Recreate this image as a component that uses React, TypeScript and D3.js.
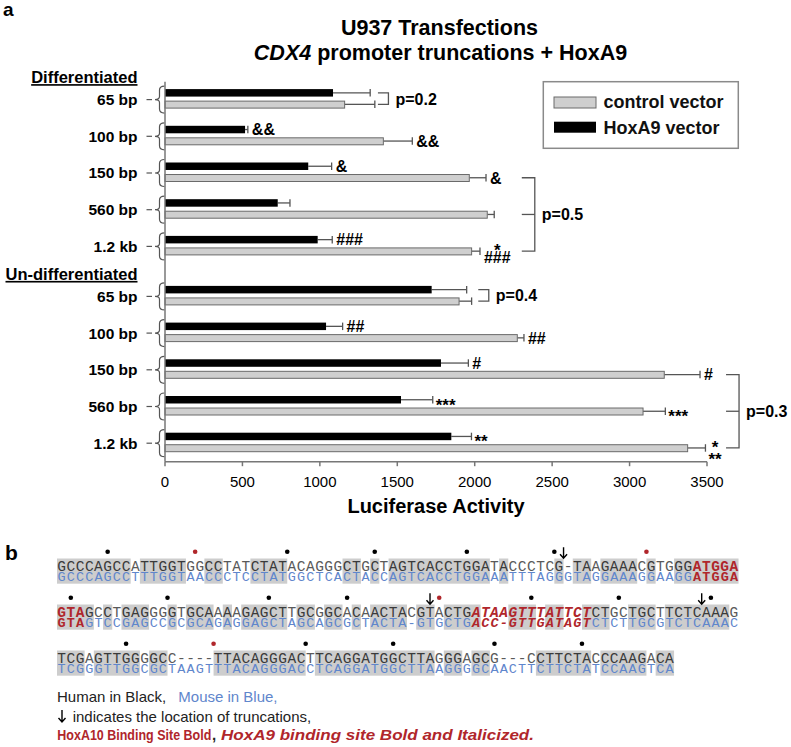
import React from "react";
import * as d3 from "d3";

// ---------- Panel a data ----------
const groupLabels = ["65 bp", "100 bp", "150 bp", "560 bp", "1.2 kb", "65 bp", "100 bp", "150 bp", "560 bp", "1.2 kb"];
const sectionLabels = ["Differentiated", "Un-differentiated"];
const sectionStart = [0, 5];
const hoxa9Values = [1085, 517, 925, 728, 986, 1722, 1040, 1782, 1524, 1849];
const hoxa9Errors = [240, 18, 151, 79, 94, 226, 107, 177, 205, 130];
const controlValues = [1160, 1410, 1965, 2081, 1980, 1899, 2275, 3224, 3087, 3375];
const controlErrors = [195, 187, 108, 45, 54, 81, 43, 231, 144, 115];
const hoxa9Marks = ["", "&&", "&", "", "###", "", "##", "#", "***", "**"];
const controlMarks = ["", "&&", "&", "", "###", "", "##", "#", "***", "**"];
const controlSupMarks = ["", "", "", "", "*", "", "", "", "", "*"];
const xTicks = [0, 500, 1000, 1500, 2000, 2500, 3000, 3500];
const pLabels = ["p=0.2", "p=0.5", "p=0.4", "p=0.3"];
const pAt = [1375, 2304, 2023, 3623];
const pRows: [number, string][][] = [
  [[0, "hoxa9"], [0, "control"]],
  [[2, "control"], [3, "control"], [4, "control"]],
  [[5, "hoxa9"], [5, "control"]],
  [[7, "control"], [8, "control"], [9, "control"]],
];
const seriesNames = ["control vector", "HoxA9 vector"];

// ---------- Panel b data ----------
const humanRows = [
  "GCCCAGCCATTGGTGGCCTATCTATACAGGGCTGCTAGTCACCTGGATACCCTCG-TAAGAAACGTGGGATGGA",
  "GTAGCCTGAGGGGTGCAAAAGAGCTTGCGGCACAACTACGTACTGATAAGTTTATTCTCTGCTGCTTCTCAAAG",
  "TCGAGTTGGGGCC----TTACAGGGACTTCAGGATGGCTTAGGGAGCG---CCTTCTACCCAAGACA",
];
const mouseRows = [
  "GCCCAGCCTTTGGTAACCCTCCTATGGCTCACTACCAGTCACCTGGAAATTTAGGGTAGGAAAGGAAGGATGGA",
  "GTAGTCCGAGCCGCGCAGAGGAGCTAGCAGCGCTACTA-GTGCTGACC-GTTGATAGTCTCTTGCGTCTCAAAC",
  "TCGGGTTGGCGCTAAGTTTACAGGGACCTCAGGATGGCTTAAGGGGCAACTTCTTCTATCCAAGTCA",
];
const dotCols = [
  [5, 14.5, 24.5, 34, 44, 53.5, 63.5],
  [1, 11.5, 22.5, 31, 41, 51, 60.5, 70.5],
  [7, 16.5, 26.5, 36, 47, 56.5],
];
const dotRed = [
  [0, 1, 0, 0, 0, 0, 1],
  [0, 0, 0, 0, 1, 0, 0, 0],
  [0, 1, 0, 0, 0, 0],
];
const arrowCols = [[54.5], [40, 69.5], []];
const hoxa10Sites = [
  { row: 0, start: 69, end: 73 },
  { row: 1, start: 0, end: 2 },
];
const hoxa9Sites = [{ row: 1, start: 45, end: 57 }];

const SANS = "'Liberation Sans', Arial, Helvetica, sans-serif";
const MONO = "'Liberation Mono', 'DejaVu Sans Mono', monospace";
const RED = "#b0262b";
const BLUE = "#5f86cc";

function bracePath(xr: number, c: number, h: number) {
  const xl = xr - 9.5;
  const xm = xr - 5;
  return `M${xr},${c - h} Q${xm},${c - h} ${xm},${c - h + 4} L${xm},${c - 3} Q${xm},${c} ${xl},${c} Q${xm},${c} ${xm},${c + 3} L${xm},${c + h - 4} Q${xm},${c + h} ${xr},${c + h}`;
}

function arrowPath(cx: number, top: number, bottom: number) {
  return `M${cx},${top} L${cx},${bottom} M${cx - 3.5},${bottom - 4} L${cx},${bottom} L${cx + 3.5},${bottom - 4}`;
}

export default function App() {
  // scales
  const x = d3.scaleLinear().domain([0, 3500]).range([165, 707]);
  const gap = 0.3624;
  const rowPos = (i: number) => i + (i >= 5 ? gap : 0);
  const y = d3.scaleLinear().domain([0, 9 + gap]).range([98.6, 442.2]);
  const inner = d3.scaleBand<string>().domain(["hoxa9", "control"]).range([-9.5, 9.5]).paddingInner(0.35);
  const bw = inner.bandwidth();
  const gc = (i: number) => y(rowPos(i));
  const barCenter = (i: number, s: string) => gc(i) + (inner(s) as number) + bw / 2;
  const axisTop = 81.7;
  const axisBottom = 461.7;

  const series = [
    { key: "hoxa9", values: hoxa9Values, errors: hoxa9Errors, marks: hoxa9Marks, sup: hoxa9Marks.map(() => "") },
    { key: "control", values: controlValues, errors: controlErrors, marks: controlMarks, sup: controlSupMarks },
  ];

  // sequence scale
  const seqX = d3.scaleLinear().domain([0, 74]).range([57, 57 + 74 * 9.21]);
  const cw = seqX(1) - seqX(0);
  const rowBase = d3.scaleLinear().domain([0, 2]).range([570.7, 662.7]);

  const inSite = (sites: { row: number; start: number; end: number }[], r: number, i: number) =>
    sites.some((s) => s.row === r && i >= s.start && i <= s.end);

  return (
    <svg
      width={791}
      height={747}
      viewBox="0 0 791 747"
      style={{ position: "absolute", left: 0, top: 0, background: "#fff" }}
      fontFamily={SANS}
    >
      <rect x={0} y={0} width={791} height={747} fill="#fff" />
      {/* panel label a */}
      <text x={3} y={16} fontSize={19} fontWeight="bold">a</text>
      {/* title */}
      <text x={439.5} y={35} textAnchor="middle" fontSize={21.5} fontWeight="bold">U937 Transfections</text>
      <text x={440.5} y={59.5} textAnchor="middle" fontSize={21.5} fontWeight="bold">
        <tspan fontStyle="italic">CDX4</tspan> promoter truncations + HoxA9
      </text>

      {/* section headings */}
      {sectionLabels.map((s, k) => (
        <text
          key={s}
          x={137.5}
          y={gc(sectionStart[k]) - 15.5}
          textAnchor="end"
          fontSize={16.5}
          fontWeight="bold"
          textDecoration="underline"
        >
          {s}
        </text>
      ))}

      {/* group labels, ticks and braces */}
      {groupLabels.map((g, i) => (
        <g key={"g" + i}>
          <text x={137.5} y={gc(i) + 6.5} textAnchor="end" fontSize={15.5} fontWeight="bold">
            {g}
          </text>
          <line x1={146.5} x2={152} y1={gc(i) + 1} y2={gc(i) + 1} stroke="#555" strokeWidth={1.2} />
          <path d={bracePath(x(0) - 0.5, gc(i) + 1, 13.5)} fill="none" stroke="#555" strokeWidth={1.2} />
        </g>
      ))}

      {/* bars */}
      {series.map((s) =>
        s.values.map((v, i) => {
          const top = gc(i) + (inner(s.key) as number);
          const cy = top + bw / 2;
          const end = x(v);
          const cap = x(v + s.errors[i]);
          return (
            <g key={s.key + i}>
              <line x1={end} x2={cap} y1={cy} y2={cy} stroke="#555" strokeWidth={1.3} />
              <line x1={cap} x2={cap} y1={top} y2={top + bw} stroke="#555" strokeWidth={1.3} />
              {s.key === "hoxa9" ? (
                <rect x={x(0)} y={top} width={end - x(0)} height={bw} fill="#000" />
              ) : (
                <rect x={x(0)} y={top + 0.5} width={end - x(0)} height={bw - 0.5} fill="#cfcfcf" stroke="#6a6a6a" strokeWidth={1} />
              )}
            </g>
          );
        })
      )}

      {/* significance marks */}
      {series.map((s) =>
        s.marks.map((m, i) => {
          if (!m) return null;
          const cy = barCenter(i, s.key);
          const cap = x(s.values[i] + s.errors[i]);
          const isStar = m.startsWith("*");
          const shifted = !!s.sup[i];
          const fs = isStar ? 17 : 16;
          const center = cy + (shifted ? 6.5 : 0) + (isStar ? 1.5 : 0);
          const base = center + (isStar ? 9.3 : 5.75);
          const tx = cap + (isStar ? 3 : 4);
          const w = m.length * (isStar ? 6.6 : 8.9);
          return (
            <g key={"m" + s.key + i}>
              <text x={tx} y={base} fontSize={fs} fontWeight="bold">{m}</text>
              {shifted && (
                <text x={tx + w / 2} y={cy - 4 + 9.3} textAnchor="middle" fontSize={17} fontWeight="bold">
                  {s.sup[i]}
                </text>
              )}
            </g>
          );
        })
      )}

      {/* p-value brackets */}
      {pLabels.map((lab, k) => {
        const ys = pRows[k].map(([g, s]) => barCenter(g, s));
        const xl = x(pAt[k]);
        const xr = xl + (ys.length > 2 ? 13 : 10.5);
        const y0 = ys[0];
        const y1 = ys[ys.length - 1];
        const ym = ys.length > 2 ? ys[1] : (y0 + y1) / 2;
        return (
          <g key={lab}>
            <path d={`M${xl},${y0} L${xr},${y0} L${xr},${y1} L${xl},${y1}`} fill="none" stroke="#555" strokeWidth={1.3} />
            {ys.length > 2 && <line x1={xl} x2={xr} y1={ys[1]} y2={ys[1]} stroke="#555" strokeWidth={1.3} />}
            <text x={xr + 7} y={ym + 6} fontSize={16} fontWeight="bold">{lab}</text>
          </g>
        );
      })}

      {/* axes */}
      <line x1={x(0)} x2={x(0)} y1={axisTop} y2={axisBottom} stroke="#777" strokeWidth={1.5} />
      <line x1={x(0)} x2={x(3500)} y1={axisBottom} y2={axisBottom} stroke="#777" strokeWidth={1.5} />
      {xTicks.map((t) => (
        <g key={"t" + t}>
          <line x1={x(t)} x2={x(t)} y1={axisBottom} y2={axisBottom + 4.5} stroke="#777" strokeWidth={1.5} />
          <text x={x(t)} y={487} textAnchor="middle" fontSize={15}>{d3.format("d")(t)}</text>
        </g>
      ))}
      <text x={(x(0) + x(3500)) / 2} y={513} textAnchor="middle" fontSize={20} fontWeight="bold">
        Luciferase Activity
      </text>

      {/* legend */}
      <rect x={543.3} y={81.7} width={195} height={66.6} fill="#fff" stroke="#8a8a8a" strokeWidth={1.5} />
      <rect x={554} y={97} width={42} height={11} fill="#cfcfcf" stroke="#6a6a6a" strokeWidth={1} />
      <rect x={554} y={121.7} width={42} height={11} fill="#000" />
      <text x={603.5} y={108} fontSize={18} fontWeight="bold" fill="#111">{seriesNames[0]}</text>
      <text x={603.5} y={133.5} fontSize={18} fontWeight="bold" fill="#111">{seriesNames[1]}</text>

      {/* ---------- panel b ---------- */}
      <text x={5} y={560} fontSize={21} fontWeight="bold">b</text>

      {humanRows.map((hRow, r) => {
        const mRow = mouseRows[r];
        const hb = rowBase(r);
        const mb = hb + 10.4;
        // runs of matched columns
        const runs: [number, number][] = [];
        for (let i = 0; i < hRow.length; i++) {
          if (hRow[i] !== "-" && hRow[i] === mRow[i]) {
            if (runs.length && runs[runs.length - 1][1] === i - 1) runs[runs.length - 1][1] = i;
            else runs.push([i, i]);
          }
        }
        return (
          <g key={"row" + r}>
            {runs.map(([a, b]) => (
              <rect key={"s" + a} x={seqX(a)} y={hb - 12.2} width={seqX(b + 1) - seqX(a)} height={mb + 2.6 - (hb - 12.2)} fill="#cdcdcd" />
            ))}
            <text y={hb} textAnchor="middle" fontFamily={MONO} fontSize={14.5}>
              {hRow.split("").map((ch, i) => {
                const a10 = inSite(hoxa10Sites, r, i);
                const a9 = inSite(hoxa9Sites, r, i);
                const matched = ch === mRow[i];
                return (
                  <tspan
                    key={"h" + i}
                    x={seqX(i) + cw / 2}
                    y={hb}
                    fontWeight={a10 || a9 ? "bold" : "normal"}
                    fontStyle={a9 ? "italic" : "normal"}
                    fill={a10 || a9 ? RED : matched ? "#3a3a3a" : "#5a5a5a"}
                  >
                    {ch}
                  </tspan>
                );
              })}
            </text>
            <text y={mb} textAnchor="middle" fontFamily={MONO} fontSize={13.5}>
              {mRow.split("").map((ch, i) => {
                const a10 = inSite(hoxa10Sites, r, i);
                const a9 = inSite(hoxa9Sites, r, i);
                return (
                  <tspan
                    key={"m" + i}
                    x={seqX(i) + cw / 2}
                    y={mb}
                    fontWeight={a10 || a9 ? "bold" : "normal"}
                    fontStyle={a9 ? "italic" : "normal"}
                    fill={a10 || a9 ? RED : BLUE}
                  >
                    {ch}
                  </tspan>
                );
              })}
            </text>
            {dotCols[r].map((c, k) => (
              <circle key={"d" + k} cx={seqX(c) + cw / 2} cy={hb - 19} r={2.3} fill={dotRed[r][k] ? RED : "#000"} />
            ))}
            {arrowCols[r].map((c, k) => (
              <path key={"a" + k} d={arrowPath(seqX(c) + cw / 2, hb - 23.5, hb - 12.5)} fill="none" stroke="#000" strokeWidth={1.4} />
            ))}
          </g>
        );
      })}

      {/* panel b legend */}
      <text x={57} y={701.7} fontSize={15} fill="#222">Human in Black,</text>
      <text x={178.3} y={701.7} fontSize={15} fill={BLUE}>Mouse in Blue,</text>
      <path d={arrowPath(62, 710, 722)} fill="none" stroke="#000" strokeWidth={1.4} />
      <text x={72.7} y={721.7} fontSize={15} fill="#222">indicates the location of truncations,</text>
      <text x={57.3} y={740} fontSize={15} fontWeight="bold" fill={RED} textLength={154} lengthAdjust="spacingAndGlyphs">
        HoxA10 Binding Site Bold
      </text>
      <text x={212} y={740} fontSize={15} fontWeight="bold" fill="#222">,</text>
      <text x={221} y={740} fontSize={15.5} fontWeight="bold" fontStyle="italic" fill={RED} textLength={313} lengthAdjust="spacingAndGlyphs">
        HoxA9 binding site Bold and Italicized.
      </text>
    </svg>
  );
}
